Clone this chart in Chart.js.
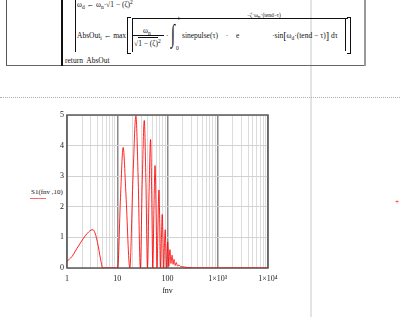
<!DOCTYPE html>
<html>
<head>
<meta charset="utf-8">
<script src="https://cdn.jsdelivr.net/npm/chart.js@4.4.0/dist/chart.umd.min.js"></script>
<style>
  body { margin: 0; background: #fff; }
  #wrap { position: relative; width: 400px; height: 317px; overflow: hidden;
          font-family: "Liberation Serif", serif; font-size: 7.5px; color: #111; }
  .t { position: absolute; white-space: nowrap; line-height: 1; }
  .ln { position: absolute; }
  sub { font-size: 5.5px; vertical-align: -2px; line-height: 0; }
  sup { font-size: 5.5px; vertical-align: 3px; line-height: 0; }
  .ov { border-top: 1px solid #111; padding-top: 1px; }
  #c { position: absolute; left: 0; top: 0; }
</style>
</head>
<body>
<div id="wrap">
  <!-- page guides -->
  <div class="ln" style="left:310px;top:0;width:2px;height:317px;background:#e4e4e4"></div>
  <div class="ln" style="left:0;top:97px;width:400px;border-top:1px dotted #b0b0b0"></div>

  <!-- program box -->
  <div class="ln" style="left:6px;top:0;width:1px;height:66px;background:#555"></div>
  <div class="ln" style="left:6px;top:65px;width:360px;height:1px;background:#666"></div>
  <div class="ln" style="left:364px;top:0;width:2px;height:66px;background:#999"></div>
  <div class="ln" style="left:61px;top:0;width:1.5px;height:66px;background:#111"></div>
  <div class="ln" style="left:75px;top:0;width:1px;height:52px;background:#111"></div>

  <div class="t" style="left:77px;top:1px">ω<sub>d</sub> ← ω<sub>n</sub>·√<span class="ov">1 − (ζ)</span><sup>2</sup></div>

  <div class="t" style="left:77px;top:32px">AbsOut<sub>i</sub> ← max</div>
  <div class="ln" style="left:127px;top:17px;width:3px;height:35px;border:1.5px solid #111;border-right:none"></div>
  <div class="ln" style="left:132px;top:18px;width:215px;height:33px;border-top:1px solid #111;border-left:1px solid #111"></div>
  <div class="ln" style="left:347px;top:17px;width:3px;height:35px;border:1.5px solid #111;border-left:none"></div>
  <div class="ln" style="left:345px;top:18px;width:1px;height:33px;background:#111"></div>

  <div class="t" style="left:143px;top:27px">ω<sub>n</sub></div>
  <div class="ln" style="left:133px;top:35px;width:31px;height:1px;background:#111"></div>
  <div class="t" style="left:134px;top:40px">√<span class="ov">1 − (ζ)</span><sup>2</sup></div>
  <div class="t" style="left:166px;top:32px">·</div>
  <div class="t" style="left:171px;top:22px;font-size:15px;transform:scaleY(1.7);transform-origin:top left">∫</div>
  <div class="t" style="left:178px;top:16px;font-size:5.5px">t</div>
  <div class="t" style="left:176px;top:46px;font-size:5.5px">0</div>
  <div class="t" style="left:182px;top:32px;word-spacing:2px">sinepulse(τ)&nbsp;&nbsp;·&nbsp;&nbsp;e</div>
  <div class="t" style="left:247px;top:13px;font-size:5.5px">−ζ·ω<sub>n</sub>·(tend−τ)</div>
  <div class="t" style="left:272px;top:32px">·sin<span style="font-size:10px;vertical-align:-1px;line-height:0">[</span>ω<sub>d</sub>·(tend − τ)<span style="font-size:10px;vertical-align:-1px;line-height:0">]</span> dτ</div>

  <div class="t" style="left:65px;top:57px">return&nbsp; AbsOut</div>

  <!-- axis name and cursor -->
  <div class="t" style="left:31px;top:189px;font-size:7px">S1(fnv ,10)</div>
  <div class="ln" style="left:30px;top:198px;width:16px;height:1px;background:#f66"></div>
  <div class="t" style="left:395px;top:198px;color:#f00">+</div>

  <canvas id="c" width="400" height="317"></canvas>
</div>

<script>
// S1(fnv, 10)
const fnv = [1, 1.25, 1.55, 1.9, 2.3, 2.7, 3.0, 3.3, 3.6, 3.9, 4.2, 4.5, 4.8, 5.1,
  10.2, 11.6, 13.1, 14.9, 17.8,
  20.5, 23.5, 26, 28.8,
  31.5, 34.5, 37.2, 40,
  43, 46, 48.5, 51,
  53.8, 56.5, 59.2, 62,
  64.8, 67.5, 70.2, 73,
  75.8, 78.5, 81.2, 84,
  87, 90, 92.5, 95,
  98, 101, 103.5, 106,
  109, 112, 114.5, 117,
  120, 123, 126, 129,
  132, 135, 138.5, 142,
  146, 150, 155, 160, 165, 170, 177, 185, 192, 200, 220, 250, 280, 320, 10000];
const s1 = [0.22, 0.37, 0.62, 0.85, 1.05, 1.18, 1.24, 1.25, 1.15, 0.95, 0.7, 0.42, 0.18, 0,
  0, 2.3, 3.94, 2.4, 0,
  2.9, 4.97, 3.0, 0,
  2.9, 4.82, 2.8, 0,
  2.5, 4.2, 2.4, 0,
  2.0, 3.35, 1.9, 0,
  1.5, 2.55, 1.45, 0,
  1.0, 1.75, 1.0, 0,
  0.75, 1.25, 0.72, 0,
  0.5, 0.85, 0.5, 0.05,
  0.38, 0.6, 0.4, 0.15,
  0.3, 0.42, 0.3, 0.12,
  0.2, 0.28, 0.18, 0.08,
  0.14, 0.18, 0.1, 0.06, 0.09, 0.1, 0.06, 0.04, 0.05, 0.04, 0.03, 0.015, 0.008, 0, 0];

const yTicks = [0, 1, 2, 3, 4, 5];
const xDecades = [1, 10, 100, 1000, 10000];
const xTickLabels = ['1', '10', '100', '1×10³', '1×10⁴'];

const xGridTicks = [];
for (let d = 0; d < xDecades.length - 1; d++) {
  for (let k = 1; k <= 9; k++) xGridTicks.push(k * xDecades[d]);
}
xGridTicks.push(xDecades[xDecades.length - 1]);

function decadeIndex(v) {
  return xDecades.findIndex(d => Math.abs(d - v) < 1e-6 * d);
}

const tickFont = { family: 'Liberation Serif', size: 8 };

const frame = {
  id: 'frame',
  beforeDatasetsDraw(chart) {
    const a = chart.chartArea, g = chart.ctx;
    g.save();
    g.strokeStyle = '#5a5a5a';
    g.lineWidth = 1.5;
    g.strokeRect(a.left, a.top, a.right - a.left, a.bottom - a.top);
    g.restore();
  }
};

new Chart(document.getElementById('c'), {
  type: 'scatter',
  data: {
    datasets: [{
      data: fnv.map((x, i) => ({ x: x, y: s1[i] })),
      showLine: true,
      borderColor: 'rgba(255,0,0,0.85)',
      borderWidth: 1,
      pointRadius: 0,
      cubicInterpolationMode: 'monotone'
    }]
  },
  options: {
    responsive: false,
    animation: false,
    events: [],
    layout: { padding: { left: 0, top: 115, right: 132, bottom: 21 } },
    plugins: { legend: { display: false }, tooltip: { enabled: false } },
    scales: {
      x: {
        type: 'logarithmic',
        min: 1,
        max: 10000,
        afterBuildTicks: s => { s.ticks = xGridTicks.map(v => ({ value: v })); },
        afterFit: s => { s.height = 28; },
        border: { display: false },
        grid: {
          drawTicks: false,
          color: c => decadeIndex(c.tick.value) >= 0 ? '#8a8a8a' : '#dcdcdc',
          lineWidth: c => decadeIndex(c.tick.value) >= 0 ? 1.5 : 1
        },
        ticks: {
          autoSkip: false,
          maxRotation: 0,
          padding: 6,
          color: '#222',
          font: tickFont,
          callback: v => {
            const i = decadeIndex(v);
            return i >= 0 ? xTickLabels[i] : '';
          }
        },
        title: { display: true, text: 'fnv', color: '#222', font: tickFont, padding: { top: 2, bottom: 0 } }
      },
      y: {
        min: 0,
        max: 5,
        afterBuildTicks: s => { s.ticks = yTicks.map(v => ({ value: v })); },
        afterFit: s => { s.width = 67; },
        border: { display: false },
        grid: { drawTicks: false, color: '#d2d2d2', lineWidth: 1 },
        ticks: { padding: 3, color: '#222', font: tickFont }
      }
    }
  },
  plugins: [frame]
});
</script>
</body>
</html>
